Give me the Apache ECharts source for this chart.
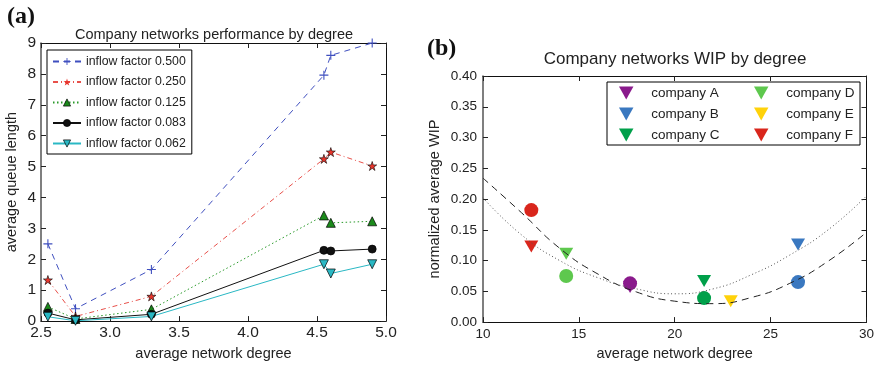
<!DOCTYPE html>
<html>
<head>
<meta charset="utf-8">
<script src="https://cdn.jsdelivr.net/npm/echarts@6/dist/echarts.min.js"></script>
<style>
  html, body { margin: 0; padding: 0; background: #fff; }
  #chart { width: 877px; height: 366px; }
</style>
</head>
<body>
<div id="chart"></div>
<script>
// (a) queue length by degree
const degree = [2.55, 2.75, 3.3, 4.55, 4.6, 4.9];
const q500 = [2.5, 0.4, 1.67, 7.96, 8.6, 9.0];
const q250 = [1.33, 0.15, 0.8, 5.25, 5.47, 5.02];
const q125 = [0.46, 0.07, 0.38, 3.42, 3.18, 3.23];
const q083 = [0.26, 0.04, 0.22, 2.29, 2.27, 2.33];
const q062 = [0.14, 0.01, 0.15, 1.84, 1.54, 1.84];
const inflowNames = ['inflow factor 0.500', 'inflow factor 0.250', 'inflow factor 0.125', 'inflow factor 0.083', 'inflow factor 0.062'];

// (b) WIP by degree
const companies = ['company A', 'company B', 'company C', 'company D', 'company E', 'company F'];
const companyColors = ['#8a1a8c', '#3a78c0', '#00a04a', '#5ec84e', '#ffd20a', '#d9261c'];
const triX = [17.67, 26.43, 21.53, 14.34, 22.92, 12.52];
const triY = [0.057, 0.126, 0.067, 0.111, 0.034, 0.123];
const circX = [17.67, 26.43, 21.53, 14.34, null, 12.52];
const circY = [0.063, 0.065, 0.039, 0.075, null, 0.182];
const fitX = [10, 12, 14, 16, 18, 20, 22, 24, 26, 28, 30];
const dashY = [0.234, 0.178, 0.12, 0.078, 0.049, 0.034, 0.030, 0.040, 0.063, 0.099, 0.146];
const dotY = [0.202, 0.142, 0.100, 0.072, 0.054, 0.046, 0.054, 0.077, 0.109, 0.150, 0.205];

const font = 'Liberation Sans, Arial, sans-serif';
const ink = '#222';

const plus = 'path://M4.4,0H5.6V4.4H10V5.6H5.6V10H4.4V5.6H0V4.4H4.4Z';
const star = 'path://M5,0L6.12,3.45L9.76,3.45L6.82,5.59L7.94,9.05L5,6.91L2.06,9.05L3.18,5.59L0.24,3.45L3.88,3.45Z';
const downTri = 'path://M0,0L10,0L5,9Z';

function axis(gridIndex, position, min, max, interval, opts) {
  opts = opts || {};
  const mirror = opts.mirror;
  return {
    type: 'value',
    gridIndex: gridIndex,
    position: position,
    min: min,
    max: max,
    interval: interval,
    name: opts.name,
    nameLocation: 'middle',
    nameGap: opts.nameGap,
    nameTextStyle: { fontFamily: font, fontSize: 14.5, color: ink },
    axisLine: { show: true, onZero: false, lineStyle: { color: opts.lineColor || '#111', width: opts.lineWidth || 1 } },
    axisTick: { show: true, inside: true, length: 5, lineStyle: { color: ink } },
    axisLabel: {
      show: !mirror,
      fontFamily: font,
      fontSize: opts.fontSize,
      color: ink,
      margin: opts.margin,
      formatter: (v) => v.toFixed(opts.digits)
    },
    splitLine: { show: false }
  };
}

function pairs(xs, ys) {
  return xs.map((x, i) => [x, ys[i]]).filter(p => p[0] != null);
}

const leftStyles = [
  { symbol: plus, size: 9, color: '#3f4fbf', line: '#3f4fbf', type: [6, 5], border: 0 },
  { symbol: star, size: 9, color: '#e8352c', line: '#e8504a', type: [5, 3, 1, 3], border: 0.6 },
  { symbol: 'triangle', size: 9, color: '#1b8a1b', line: '#2a9a2a', type: [1.5, 2.5], border: 0.7 },
  { symbol: 'circle', size: 8, color: '#111', line: '#111', type: 'solid', border: 0.7 },
  { symbol: 'triangle', rotate: 180, size: 9, color: '#2ab8c4', line: '#2ab8c4', type: 'solid', border: 0.7 }
];
const leftData = [q500, q250, q125, q083, q062];

const leftSeries = leftStyles.map((s, i) => ({
  type: 'line',
  name: inflowNames[i],
  xAxisIndex: 0,
  yAxisIndex: 0,
  data: pairs(degree, leftData[i]),
  symbol: s.symbol,
  symbolRotate: s.rotate || 0,
  symbolSize: s.size,
  showSymbol: true,
  clip: false,
  lineStyle: { color: s.line, width: 1, type: s.type },
  itemStyle: { color: s.color, borderColor: '#000', borderWidth: s.border },
  emphasis: { disabled: true }
}));

const fitSeries = [
  { data: dashY, color: '#222', type: [7, 5] },
  { data: dotY, color: '#555', type: [1, 2.5] }
].map(s => ({
  type: 'line',
  xAxisIndex: 2,
  yAxisIndex: 2,
  data: pairs(fitX, s.data),
  smooth: true,
  showSymbol: false,
  silent: true,
  lineStyle: { color: s.color, width: 1, type: s.type }
}));

const triSeries = companies.map((c, i) => ({
  type: 'scatter',
  name: c,
  xAxisIndex: 2,
  yAxisIndex: 2,
  data: [[triX[i], triY[i]]],
  symbol: 'triangle',
  symbolRotate: 180,
  symbolSize: [14, 12],
  itemStyle: { color: companyColors[i], opacity: 1 },
  emphasis: { disabled: true }
}));

const circSeries = companies.map((c, i) => ({
  type: 'scatter',
  name: c + ' (circle)',
  xAxisIndex: 2,
  yAxisIndex: 2,
  data: circX[i] == null ? [] : [[circX[i], circY[i]]],
  symbol: 'circle',
  symbolSize: 14,
  itemStyle: { color: companyColors[i], opacity: 1 },
  emphasis: { disabled: true }
}));

function companyLegend(names, left) {
  return {
    data: names.map(n => ({ name: n, icon: downTri })),
    orient: 'vertical',
    left: left,
    top: 86,
    padding: 0,
    itemWidth: 40,
    itemHeight: 13,
    itemGap: 7,
    symbolKeepAspect: true,
    selectedMode: false,
    textStyle: { fontFamily: font, fontSize: 13.5, color: ink }
  };
}

const chart = echarts.init(document.getElementById('chart'));
chart.setOption({
  animation: false,
  backgroundColor: '#fff',
  title: [
    { text: '(a)', left: 7, top: 5, padding: 0, textStyle: { fontFamily: 'Liberation Serif, serif', fontWeight: 'bold', fontSize: 24, color: '#111' } },
    { text: '(b)', left: 427, top: 37, padding: 0, textStyle: { fontFamily: 'Liberation Serif, serif', fontWeight: 'bold', fontSize: 24, color: '#111' } },
    { text: 'Company networks performance by degree', left: 214, textAlign: 'center', top: 27, padding: 0, textStyle: { fontFamily: font, fontWeight: 'normal', fontSize: 14.5, color: ink } },
    { text: 'Company networks WIP by degree', left: 675, textAlign: 'center', top: 51, padding: 0, textStyle: { fontFamily: font, fontWeight: 'normal', fontSize: 17, color: ink } }
  ],
  grid: [
    { left: 41, top: 43, width: 345, height: 288 },
    { left: 483, top: 76, width: 384, height: 255 }
  ],
  xAxis: [
    axis(0, 'bottom', 2.5, 5.0, 0.5, { name: 'average network degree', nameGap: 21, fontSize: 15.5, margin: 4, digits: 1 }),
    axis(0, 'top', 2.5, 5.0, 0.5, { mirror: true }),
    axis(1, 'bottom', 10, 30, 5, { name: 'average network degree', nameGap: 21, fontSize: 13.5, margin: 5, digits: 0 }),
    axis(1, 'top', 10, 30, 5, { mirror: true })
  ],
  yAxis: [
    axis(0, 'left', 0, 9, 1, { name: 'average queue length', nameGap: 22, fontSize: 15.5, margin: 5, digits: 0, lineColor: '#555', lineWidth: 1.5 }),
    axis(0, 'right', 0, 9, 1, { mirror: true }),
    axis(1, 'left', 0, 0.4, 0.05, { name: 'normalized average WIP', nameGap: 41, fontSize: 13.5, margin: 6, digits: 2, lineColor: '#555', lineWidth: 1.5 }),
    axis(1, 'right', 0, 0.4, 0.05, { mirror: true })
  ],
  legend: [
    {
      data: inflowNames.map((n, i) => ({
        name: n,
        itemStyle: { color: leftStyles[i].color, borderColor: '#000', borderWidth: i === 1 ? 0 : leftStyles[i].border }
      })),
      orient: 'vertical',
      left: 47,
      top: 50,
      padding: [5.5, 6, 4.5, 5],
      itemWidth: 28,
      itemHeight: 9,
      itemGap: 8.5,
      borderColor: '#000',
      borderWidth: 1,
      borderRadius: 0,
      backgroundColor: '#fff',
      selectedMode: false,
      textStyle: { fontFamily: font, fontSize: 12.3, color: ink }
    },
    companyLegend(companies.slice(0, 3), 619),
    companyLegend(companies.slice(3), 754)
  ],
  graphic: [
    {
      type: 'rect',
      z: 3,
      shape: { x: 607, y: 82, width: 253, height: 63 },
      style: { fill: '#fff', stroke: '#000', lineWidth: 1 },
      silent: true
    }
  ],
  series: leftSeries.concat(fitSeries, triSeries, circSeries)
});
</script>
</body>
</html>
